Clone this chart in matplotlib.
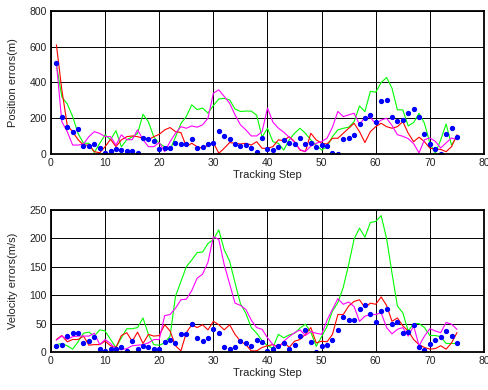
import numpy as np
import matplotlib
matplotlib.use("Agg")
import matplotlib.pyplot as plt

plt.rcParams['font.family'] = ['Liberation Sans', 'DejaVu Sans']

steps = list(range(1, 76))

# ---- Position errors (m) ----
pos_red = [610, 360, 160, 125, 80, 50, 50, 13, 7, 41, 82, 41, 79, 97, 101, 97, 88, 79, 97, 110,
           135, 148, 125, 120, 42, 60, 41, 32, 50, 64, 4, 32, 64, 60, 56, 60, 50, 69, 32, 32,
           41, 79, 75, 97, 69, 22, 13, 116, 79, 60, 56, 88, 88, 116, 144, 172, 125, 64, 125, 153,
           172, 153, 144, 153, 181, 116, 69, 94, 69, 32, 28, 26, 13, 41, 107]
pos_green = [500, 320, 280, 210, 115, 60, 60, 8, 60, 107, 80, 130, 40, 80, 95, 115, 222, 180, 95, 60,
             40, 22, 95, 170, 210, 275, 248, 257, 229, 271, 308, 311, 303, 252, 238, 240, 240, 217, 95, 144,
             69, 60, 22, 79, 116, 144, 116, 79, 50, 22, 41, 97, 135, 144, 150, 181, 269, 237, 350, 346,
             400, 428, 368, 247, 247, 157, 176, 228, 172, 60, 4, 79, 168, 50, 97]
pos_magenta = [508, 181, 125, 50, 50, 56, 97, 125, 115, 97, 97, 50, 107, 80, 80, 135, 80, 41, 41, 64,
               13, 69, 116, 153, 144, 157, 150, 163, 200, 340, 359, 322, 284, 219, 163, 135, 101, 101, 125, 257,
               178, 145, 122, 94, 66, 24, 14, 44, 60, 70, 88, 150, 238, 209, 219, 228, 165, 205, 205, 168,
               190, 200, 160, 108, 99, 86, 58, 6, 80, 90, 71, 34, 62, 90, 80]
pos_blue = [507, 206, 150, 122, 140, 43, 47, 56, 34, 6, 19, 28, 24, 19, 19, 6, 90, 84, 75, 28,
            34, 34, 62, 56, 56, 84, 34, 37, 56, 62, 127, 99, 86, 56, 43, 52, 34, 9, 90, 28,
            21, 39, 80, 62, 58, 90, 58, 62, 39, 52, 43, 6, 2, 84, 90, 107, 170, 202, 219, 180,
            297, 303, 206, 187, 192, 230, 252, 207, 112, 58, 28, 2, 112, 146, 95]

# ---- Velocity errors (m/s) ----
vel_red = [22, 29, 18, 22, 22, 28, 12, 13, 13, 19, 11, 8, 29, 34, 19, 35, 15, 31, 28, 29,
           48, 37, 11, 2, 34, 48, 43, 48, 39, 54, 48, 39, 48, 31, 19, 13, 2, 2, 8, 11,
           13, 8, 18, 8, 19, 22, 31, 43, 16, 19, 18, 31, 66, 66, 81, 89, 92, 78, 86, 84,
           97, 82, 54, 60, 46, 37, 22, 13, 8, 5, 6, 11, 5, 16, 34]
vel_green = [13, 15, 11, 5, 18, 33, 35, 28, 39, 37, 22, 8, 25, 41, 41, 43, 60, 31, 13, 12,
             16, 28, 98, 124, 150, 162, 175, 176, 191, 198, 215, 180, 160, 122, 85, 68, 43, 33, 20, 11,
             7, 31, 25, 30, 33, 42, 49, 35, 10, 27, 45, 72, 87, 114, 154, 199, 218, 202, 228, 230,
             240, 200, 139, 81, 69, 37, 50, 50, 43, 29, 29, 27, 15, 15, 15]
vel_magenta = [21, 28, 22, 27, 28, 28, 28, 33, 13, 22, 15, 5, 4, 6, 11, 12, 13, 16, 22, 22,
               64, 66, 77, 92, 93, 108, 130, 137, 158, 203, 198, 154, 120, 86, 82, 75, 56, 43, 40, 25,
               13, 6, 19, 27, 34, 39, 29, 36, 33, 31, 56, 75, 94, 84, 88, 80, 54, 63, 66, 66,
               69, 43, 32, 40, 43, 28, 46, 11, 28, 41, 37, 34, 52, 49, 40]
vel_blue = [11, 13, 29, 34, 34, 16, 19, 26, 6, 2, 6, 6, 9, 2, 19, 5, 11, 8, 6, 5,
            18, 22, 16, 32, 32, 50, 25, 19, 25, 40, 34, 8, 5, 9, 19, 15, 11, 22, 18, 2,
            6, 11, 15, 6, 12, 29, 38, 18, 0, 11, 13, 22, 39, 62, 56, 56, 75, 82, 67, 53,
            73, 75, 50, 52, 34, 35, 47, 8, 3, 14, 22, 26, 37, 28, 15]

x_ticks = [0, 10, 20, 30, 40, 50, 60, 70, 80]
pos_ticks = [0, 200, 400, 600, 800]
vel_ticks = [0, 50, 100, 150, 200, 250]

fig = plt.figure(figsize=(4.89, 3.90), dpi=100)
ax1 = fig.add_axes([51/489, 1-154/390, 433/489, 143/390])
ax2 = fig.add_axes([51/489, 1-352/390, 433/489, 142/390])

def draw(ax, red, green, magenta, blue, yticks, ylabel):
    ax.plot(steps, green, color='#00ff00', lw=0.8)
    ax.plot(steps, red, color='#ff0000', lw=0.8)
    ax.plot(steps, magenta, color='#ff00ff', lw=0.8)
    ax.plot(steps, blue, linestyle='none', marker='o', ms=2.8, color='#0000ff', mec='#0000ff')
    ax.set_xlim(0, 80)
    ax.set_ylim(yticks[0], yticks[-1])
    ax.set_xticks(x_ticks)
    ax.set_yticks(yticks)
    ax.grid(True, color='black', lw=0.7)
    ax.set_axisbelow(True)
    ax.tick_params(direction='in', length=0, labelsize=7.5, pad=3, colors='#222222')
    for s in ax.spines.values():
        s.set_linewidth(1.3)
        s.set_color('black')
    ax.set_xlabel('Tracking Step', fontsize=8, labelpad=1, color='#222222')
    ax.set_ylabel(ylabel, fontsize=8, labelpad=8, color='#222222')

draw(ax1, pos_red, pos_green, pos_magenta, pos_blue, pos_ticks, 'Position errors(m)')
draw(ax2, vel_red, vel_green, vel_magenta, vel_blue, vel_ticks, 'Velocity errors(m/s)')

fig.savefig('out.png', dpi=100)
